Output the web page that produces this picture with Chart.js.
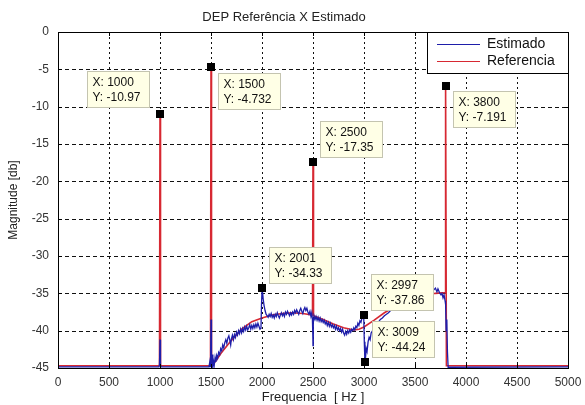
<!DOCTYPE html>
<html>
<head>
<meta charset="utf-8">
<script src="https://cdn.jsdelivr.net/npm/chart.js@4.4.0/dist/chart.umd.min.js"></script>
<style>
  html, body { margin: 0; padding: 0; background: #fff; }
  #chart { display: block; }
</style>
</head>
<body>
<canvas id="chart" width="585" height="405"></canvas>
<script>
// valores
const freqRef = [0, 995, 1000, 1005, 1495, 1500, 1505, 1510, 1550, 1600, 1700, 1800, 1900, 2000, 2100, 2200, 2300, 2400, 2495, 2500, 2505, 2600, 2700, 2800, 2900, 2950, 3000, 3100, 3200, 3300, 3400, 3500, 3600, 3700, 3795, 3800, 3808, 5000]
const magRef = [-44.7, -44.7, -10.97, -44.7, -44.7, -4.732, -44.7, -44.7, -44.0, -43.0, -41.3, -39.8, -38.8, -38.3, -37.9, -37.7, -37.6, -37.7, -37.9, -17.35, -38.0, -38.5, -39.1, -39.6, -39.9, -39.8, -39.5, -38.6, -37.6, -36.8, -36.2, -35.7, -35.3, -35.0, -34.9, -7.191, -44.7, -44.7]

const freqEst = [0, 990, 995, 1000, 1005, 1010, 1480, 1488, 1492, 1497, 1500, 1503, 1507, 1512, 1518, 1525, 1532, 1540, 1548, 1556, 1565, 1575, 1585, 1595, 1605, 1615, 1625, 1635, 1645, 1655, 1665, 1675, 1685, 1693, 1700, 1710, 1720, 1730, 1740, 1750, 1760, 1770, 1780, 1790, 1800, 1810, 1820, 1830, 1840, 1850, 1860, 1870, 1880, 1890, 1900, 1910, 1920, 1930, 1940, 1950, 1960, 1970, 1980, 1990, 1995, 2001, 2006, 2012, 2020, 2030, 2040, 2050, 2060, 2070, 2080, 2090, 2100, 2110, 2120, 2130, 2140, 2150, 2160, 2170, 2180, 2190, 2200, 2210, 2220, 2230, 2240, 2250, 2260, 2270, 2280, 2290, 2300, 2310, 2320, 2330, 2340, 2350, 2360, 2370, 2380, 2390, 2400, 2410, 2420, 2430, 2440, 2450, 2460, 2470, 2480, 2488, 2494, 2498, 2500, 2503, 2510, 2520, 2530, 2540, 2550, 2560, 2570, 2580, 2590, 2600, 2610, 2620, 2630, 2640, 2650, 2660, 2670, 2680, 2690, 2700, 2710, 2720, 2730, 2740, 2750, 2760, 2770, 2780, 2790, 2800, 2810, 2820, 2830, 2840, 2850, 2860, 2870, 2880, 2890, 2900, 2910, 2920, 2930, 2940, 2950, 2960, 2970, 2980, 2990, 2997, 3003, 3009, 3015, 3022, 3030, 3040, 3050, 3060, 3070, 3085, 3100, 3120, 3140, 3160, 3180, 3200, 3220, 3240, 3260, 3280, 3300, 3350, 3400, 3450, 3500, 3550, 3600, 3650, 3680, 3700, 3715, 3725, 3740, 3755, 3765, 3775, 3785, 3795, 3800, 3805, 3812, 3818, 3825, 5000]
const magEst = [-44.85, -44.85, -44.5, -41.2, -44.6, -44.85, -44.85, -44.2, -44.8, -42.5, -38.5, -43.8, -44.9, -43.2, -45.0, -44.1, -44.6, -43.6, -44.2, -43.3, -43.7, -42.9, -43.2, -42.4, -42.7, -41.9, -42.3, -41.6, -41.2, -41.7, -41.0, -40.7, -41.3, -41.9, -41.1, -40.6, -41.2, -40.5, -40.9, -40.2, -40.6, -40.0, -40.4, -39.8, -40.3, -39.7, -40.1, -39.5, -39.9, -39.4, -39.9, -39.6, -39.2, -39.8, -39.3, -39.7, -39.2, -39.6, -39.1, -39.5, -39.0, -39.4, -39.8, -39.7, -36.5, -34.33, -34.9, -35.8, -36.6, -37.3, -37.8, -38.0, -38.2, -37.8, -38.1, -37.7, -38.2, -37.9, -38.3, -37.8, -38.1, -37.6, -38.0, -38.3, -37.9, -37.6, -38.0, -37.7, -38.1, -37.5, -37.8, -37.4, -37.7, -38.0, -37.6, -37.9, -37.5, -37.8, -37.3, -37.6, -37.2, -37.5, -37.8, -37.3, -37.0, -37.4, -37.7, -37.2, -36.9, -37.3, -37.0, -37.5, -37.8, -37.4, -38.1, -37.6, -38.4, -40.5, -42.0, -38.9, -38.0, -38.5, -38.1, -38.6, -38.2, -38.7, -38.3, -38.8, -38.5, -38.9, -38.6, -39.1, -38.8, -39.3, -38.9, -39.4, -39.0, -39.5, -39.2, -39.6, -39.3, -39.8, -39.4, -39.9, -39.6, -40.0, -39.7, -40.2, -39.8, -40.3, -40.6, -40.1, -40.5, -40.0, -40.3, -39.9, -40.2, -39.8, -40.0, -39.6, -39.9, -39.4, -39.6, -39.0, -39.3, -38.7, -38.9, -38.3, -38.1, -37.86, -41.5, -44.24, -43.6, -42.4, -42.8, -41.5, -40.9, -41.2, -40.3, -40.0, -39.6, -39.2, -38.9, -38.5, -38.3, -38.0, -37.8, -37.6, -37.3, -37.1, -36.9, -36.6, -36.2, -35.9, -35.6, -35.4, -35.2, -34.9, -34.6, -34.3, -34.8, -34.4, -34.9, -35.2, -35.0, -35.6, -35.2, -36.0, -36.5, -40.0, -38.5, -42.8, -44.9, -44.85]

// datatips
const tipX = [1000, 1500, 2500, 3800, 2001, 2997, 3009]
const tipY = [-10.97, -4.732, -17.35, -7.191, -34.33, -37.86, -44.24]
const tipXText = ['1000', '1500', '2500', '3800', '2001', '2997', '3009']
const tipYText = ['-10.97', '-4.732', '-17.35', '-7.191', '-34.33', '-37.86', '-44.24']
const tipPlace = ['lu', 'rd', 'ru', 'rd', 'ru', 'ru', 'ru']

const xTicks = [0, 500, 1000, 1500, 2000, 2500, 3000, 3500, 4000, 4500, 5000]
const yTicks = [0, -5, -10, -15, -20, -25, -30, -35, -40, -45]

const FONT = "'Liberation Sans', Arial, Helvetica, sans-serif"

function pares(xs, ys) {
  let pts = []
  for (let i = 0; i < xs.length; i++) {
    pts.push({ x: xs[i], y: ys[i] })
  }
  return pts
}

// grade pontilhada estilo matlab
const gradePlugin = {
  id: 'grade',
  beforeDatasetsDraw(chart) {
    const ctx = chart.ctx
    const a = chart.chartArea
    const xs = chart.scales.x
    const ys = chart.scales.y
    ctx.save()
    ctx.strokeStyle = '#111'
    ctx.lineWidth = 1
    ctx.setLineDash([2, 3])
    for (let i = 1; i < xTicks.length - 1; i++) {
      let px = Math.round(xs.getPixelForValue(xTicks[i])) + 0.5
      ctx.beginPath()
      ctx.moveTo(px, a.top)
      ctx.lineTo(px, a.bottom)
      ctx.stroke()
    }
    ctx.setLineDash([4, 3])
    for (let i = 1; i < yTicks.length - 1; i++) {
      let py = Math.round(ys.getPixelForValue(yTicks[i])) + 0.5
      ctx.beginPath()
      ctx.moveTo(a.left, py)
      ctx.lineTo(a.right, py)
      ctx.stroke()
    }
    ctx.restore()
  },
  afterDatasetsDraw(chart) {
    const ctx = chart.ctx
    const a = chart.chartArea
    const xs = chart.scales.x
    const ys = chart.scales.y
    ctx.save()
    ctx.strokeStyle = '#000'
    ctx.lineWidth = 1
    ctx.setLineDash([])
    // marcas dos ticks para dentro
    ctx.beginPath()
    for (let i = 0; i < xTicks.length; i++) {
      let px = Math.round(xs.getPixelForValue(xTicks[i])) + 0.5
      ctx.moveTo(px, a.bottom)
      ctx.lineTo(px, a.bottom - 4)
      ctx.moveTo(px, a.top)
      ctx.lineTo(px, a.top + 4)
    }
    for (let i = 0; i < yTicks.length; i++) {
      let py = Math.round(ys.getPixelForValue(yTicks[i])) + 0.5
      ctx.moveTo(a.left, py)
      ctx.lineTo(a.left + 4, py)
      ctx.moveTo(a.right, py)
      ctx.lineTo(a.right - 4, py)
    }
    ctx.stroke()
    ctx.strokeRect(Math.round(a.left) + 0.5, Math.round(a.top) + 0.5, Math.round(a.right - a.left), Math.round(a.bottom - a.top))
    ctx.restore()
  }
}

// caixas de datatip e legenda
const dicasPlugin = {
  id: 'dicas',
  afterDraw(chart) {
    const ctx = chart.ctx
    const a = chart.chartArea
    const xs = chart.scales.x
    const ys = chart.scales.y
    ctx.save()
    ctx.font = '12px ' + FONT
    ctx.textBaseline = 'middle'
    for (let i = 0; i < tipX.length; i++) {
      let mx = xs.getPixelForValue(tipX[i])
      let my = ys.getPixelForValue(tipY[i])
      let l1 = 'X: ' + tipXText[i]
      let l2 = 'Y: ' + tipYText[i]
      let w = Math.ceil(Math.max(ctx.measureText(l1).width, ctx.measureText(l2).width)) + 13
      let h = 36
      let bx, by
      if (tipPlace[i] === 'lu') {
        bx = mx - 11.5 - w
        by = my - 6.5 - h
      } else if (tipPlace[i] === 'rd') {
        bx = mx + 7
        by = my + 5.5
      } else {
        bx = mx + 7
        by = my - 5 - h
      }
      bx = Math.round(bx) + 0.5
      by = Math.round(by) + 0.5
      ctx.fillStyle = '#ffffe6'
      ctx.fillRect(bx, by, w, h)
      ctx.strokeStyle = '#c4c4b0'
      ctx.lineWidth = 1
      ctx.strokeRect(bx, by, w, h)
      ctx.fillStyle = '#111'
      ctx.textAlign = 'left'
      ctx.fillText(l1, bx + 5, by + 11.5)
      ctx.fillText(l2, bx + 5, by + 25.8)
      ctx.fillStyle = '#000'
      ctx.fillRect(Math.round(mx) - 4, Math.round(my) - 4, 8, 8)
    }

    // legenda
    const lx = 427.5, ly = Math.round(a.top) + 0.5
    const lw = Math.round(a.right) - 427, lh = 41
    ctx.fillStyle = '#fff'
    ctx.fillRect(lx, ly, lw, lh)
    ctx.strokeStyle = '#000'
    ctx.lineWidth = 1
    ctx.strokeRect(lx, ly, lw, lh)
    ctx.font = '14px ' + FONT
    const ds = chart.data.datasets
    for (let i = 0; i < ds.length; i++) {
      let yy = ly + 12 + i * 17
      ctx.strokeStyle = ds[i].borderColor
      ctx.lineWidth = 1.2
      ctx.beginPath()
      ctx.moveTo(437, yy)
      ctx.lineTo(480, yy)
      ctx.stroke()
      ctx.fillStyle = '#111'
      ctx.fillText(ds[i].label, 487, yy)
    }
    ctx.restore()
  }
}

const ctx = document.getElementById('chart').getContext('2d')

new Chart(ctx, {
  type: 'line',
  data: {
    datasets: [{
      label: 'Estimado',
      data: pares(freqEst, magEst),
      borderColor: 'rgb(30, 30, 170)',
      borderWidth: 1.3,
      pointRadius: 0,
      tension: 0
    }, {
      label: 'Referencia',
      data: pares(freqRef, magRef),
      borderColor: 'rgb(215, 40, 50)',
      borderWidth: 1.6,
      pointRadius: 0,
      tension: 0
    }]
  },
  options: {
    responsive: false,
    devicePixelRatio: 1,
    animation: false,
    layout: { padding: { left: 0, right: 17, top: 0, bottom: 0 } },
    plugins: {
      legend: { display: false },
      tooltip: { enabled: false },
      title: {
        display: true,
        text: 'DEP Referência X Estimado',
        color: '#222',
        font: { family: FONT, size: 13, weight: 'normal' },
        padding: { top: 10, bottom: 6.4 }
      }
    },
    scales: {
      x: {
        type: 'linear',
        min: 0,
        max: 5000,
        afterFit(scale) { scale.height = 37 },
        afterBuildTicks(scale) { scale.ticks = xTicks.map(v => ({ value: v })) },
        grid: { display: false },
        border: { display: false },
        ticks: {
          padding: -1,
          color: '#333',
          font: { family: FONT, size: 12 },
          maxRotation: 0,
          callback: v => String(v)
        },
        title: {
          display: true,
          text: 'Frequencia  [ Hz ]',
          color: '#222',
          font: { family: FONT, size: 13 },
          padding: { top: 0, bottom: 0 }
        }
      },
      y: {
        type: 'linear',
        min: -45,
        max: 0,
        afterFit(scale) { scale.width = 58 },
        afterBuildTicks(scale) { scale.ticks = yTicks.map(v => ({ value: v })) },
        grid: { display: false },
        border: { display: false },
        ticks: {
          padding: 1,
          color: '#333',
          font: { family: FONT, size: 12 },
          callback: v => String(v)
        },
        title: {
          display: true,
          text: 'Magnitude [db]',
          color: '#222',
          font: { family: FONT, size: 12 },
          padding: { top: 6, bottom: 0 }
        }
      }
    }
  },
  plugins: [gradePlugin, dicasPlugin]
})
</script>
</body>
</html>
